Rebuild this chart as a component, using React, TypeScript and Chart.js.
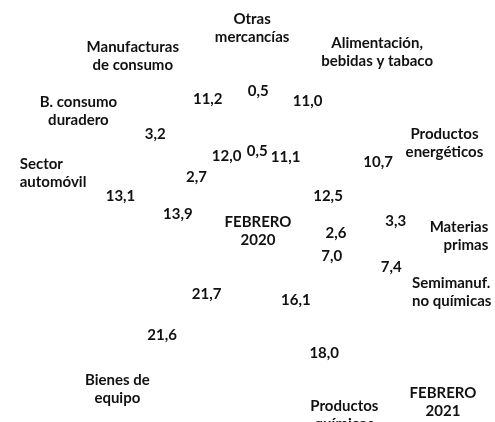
import React, { useEffect, useRef } from "react";
import { Chart, registerables } from "chart.js";

Chart.register(...registerables);

const categories: string[][] = [
  ["Otras", "mercancías"],
  ["Alimentación,", "bebidas y tabaco"],
  ["Productos", "energéticos"],
  ["Materias", "primas"],
  ["Semimanuf.", "no químicas"],
  ["Productos", "químicos"],
  ["Bienes de", "equipo"],
  ["Sector", "automóvil"],
  ["B. consumo", "duradero"],
  ["Manufacturas", "de consumo"],
];

const values2021 = [0.5, 11.0, 10.7, 3.3, 7.4, 18.0, 21.6, 13.1, 3.2, 11.2];
const values2020 = [0.5, 11.1, 12.5, 2.6, 7.0, 16.1, 21.7, 13.9, 2.7, 12.0];

const innerTitle = ["FEBRERO", "2020"];
const outerTitle = ["FEBRERO", "2021"];
const chartTitle = "Exportaciones por sectores (% del total)";

// label layout: angle nudge (deg), extra radius beyond the outer ring, line alignment
const labelLayout: { nudge: number; extra: number; align: "left" | "center" | "right" }[] = [
  { nudge: -2, extra: 33, align: "center" },
  { nudge: 12.5, extra: 46, align: "center" },
  { nudge: 4.3, extra: 38, align: "center" },
  { nudge: 5.5, extra: 33, align: "right" },
  { nudge: 2.2, extra: 35, align: "left" },
  { nudge: 3.5, extra: 34, align: "center" },
  { nudge: -0.8, extra: 40, align: "center" },
  { nudge: 1.3, extra: 41, align: "left" },
  { nudge: -10, extra: 44, align: "center" },
  { nudge: -15, extra: 44, align: "center" },
];

const FONT = "bold 15px Lato";
const COLOR = "#111111";
const LINE_H = 18;

const fmt = (v: number) => v.toFixed(1).replace(".", ",");

function drawBlock(ctx: CanvasRenderingContext2D, lines: string[], cx: number, cy: number, align: string) {
  const widths = lines.map((l) => ctx.measureText(l).width);
  const maxW = Math.max(...widths);
  const top = cy - ((lines.length - 1) * LINE_H) / 2;
  lines.forEach((l, k) => {
    let x = cx;
    if (align === "left") {
      ctx.textAlign = "left";
      x = cx - maxW / 2;
    } else if (align === "right") {
      ctx.textAlign = "right";
      x = cx + maxW / 2;
    } else {
      ctx.textAlign = "center";
    }
    ctx.fillText(l, x, top + k * LINE_H);
  });
}

const labelsPlugin = {
  id: "ringLabels",
  afterDatasetsDraw(chart: any) {
    const ctx: CanvasRenderingContext2D = chart.ctx;
    ctx.save();
    ctx.font = FONT;
    ctx.fillStyle = COLOR;
    ctx.textBaseline = "middle";
    ctx.textAlign = "center";
    chart.data.datasets.forEach((ds: any, di: number) => {
      const meta = chart.getDatasetMeta(di);
      meta.data.forEach((arc: any, i: number) => {
        const p = arc.tooltipPosition(true);
        ctx.textAlign = "center";
        ctx.fillText(fmt(ds.data[i]), p.x, p.y);
      });
    });
    const outer = chart.getDatasetMeta(0);
    outer.data.forEach((arc: any, i: number) => {
      const pr = arc.getProps(["x", "y", "startAngle", "endAngle", "outerRadius"], true);
      const lay = labelLayout[i];
      const mid = (pr.startAngle + pr.endAngle) / 2 + (lay.nudge * Math.PI) / 180;
      const r = pr.outerRadius + lay.extra;
      drawBlock(ctx, categories[i], pr.x + r * Math.cos(mid), pr.y + r * Math.sin(mid), lay.align);
    });
    const first = outer.data[0];
    if (first) {
      const pr = first.getProps(["x", "y"], true);
      drawBlock(ctx, innerTitle, pr.x + 2, pr.y, "center");
    }
    const area = chart.chartArea;
    drawBlock(ctx, outerTitle, area.right + 17, area.bottom + 1, "center");
    // clipped title at very top
    ctx.font = "bold 15px Lato";
    ctx.textAlign = "center";
    ctx.textBaseline = "alphabetic";
    ctx.fillText(chartTitle, 300, -3.5);
    ctx.restore();
  },
};

export default function App() {
  const ref = useRef<HTMLCanvasElement | null>(null);
  useEffect(() => {
    if (!ref.current) return;
    const chart = new Chart(ref.current, {
      type: "doughnut",
      data: {
        labels: categories.map((c) => c.join(" ")),
        datasets: [
          { label: "FEBRERO 2021", data: values2021, backgroundColor: "#ffffff", borderWidth: 0 },
          { label: "FEBRERO 2020", data: values2020, backgroundColor: "#ffffff", borderWidth: 0 },
        ],
      },
      options: {
        animation: false,
        responsive: true,
        maintainAspectRatio: false,
        cutout: 50,
        events: [],
        layout: { padding: { left: 86, right: 69, top: 61, bottom: 21 } },
        plugins: { legend: { display: false }, tooltip: { enabled: false }, title: { display: false } },
      },
      plugins: [labelsPlugin],
    });
    return () => chart.destroy();
  }, []);
  return (
    <div style={{ position: "fixed", left: 0, top: 0, width: 495, height: 422, background: "#fff" }}>
      <canvas ref={ref} />
    </div>
  );
}
